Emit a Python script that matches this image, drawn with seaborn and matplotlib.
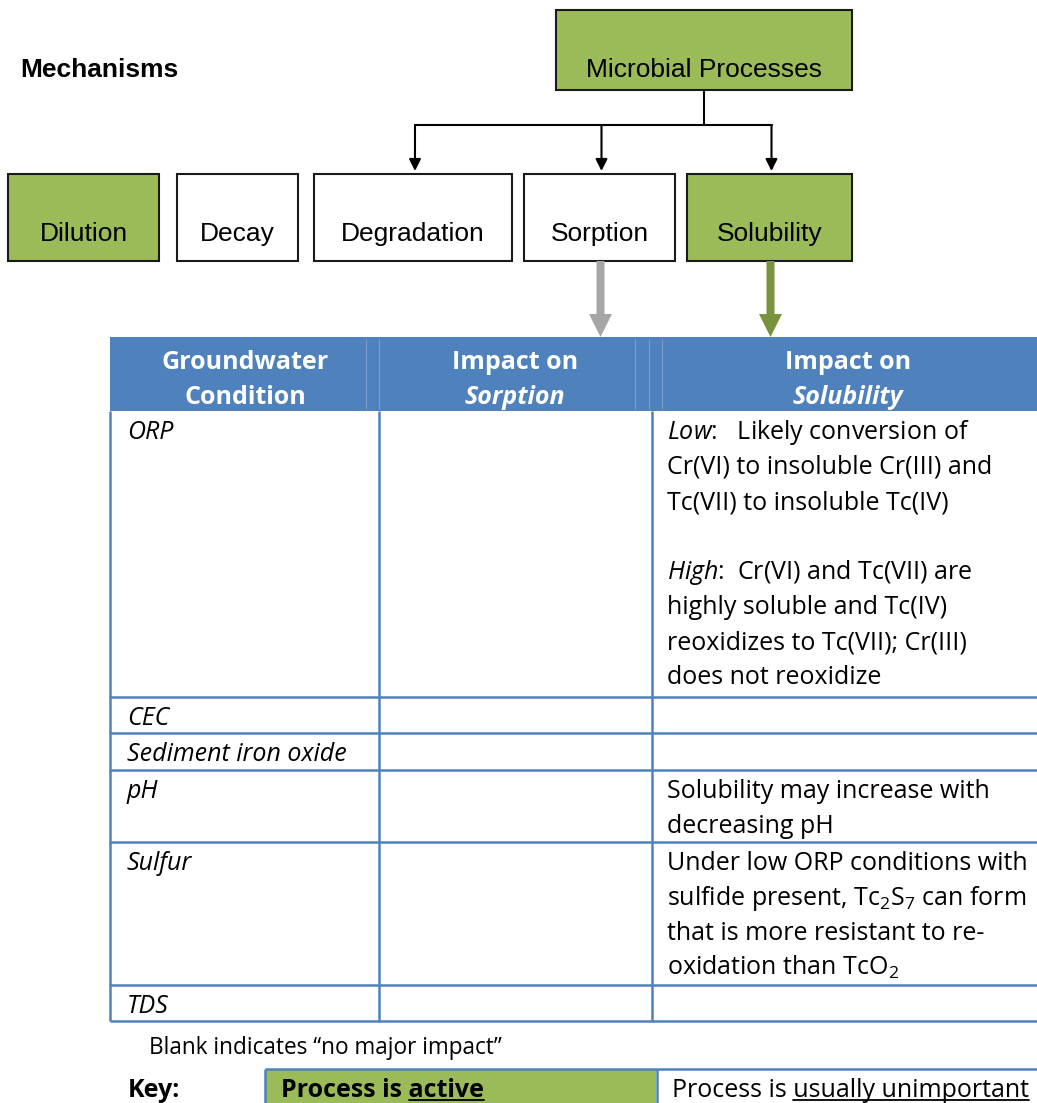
import matplotlib
matplotlib.use('Agg')
import matplotlib.pyplot as plt
import seaborn as sns
from matplotlib.patches import Rectangle, FancyArrow

# --- content ---
mechanisms = ['Dilution', 'Decay', 'Degradation', 'Sorption', 'Solubility']
mech_active = [True, False, False, False, True]
top_process = 'Microbial Processes'
microbial_targets = ['Degradation', 'Sorption', 'Solubility']

header_cols = [['Groundwater', 'Condition'], ['Impact on', 'Sorption'], ['Impact on', 'Solubility']]
conditions = ['ORP', 'CEC', 'Sediment iron oxide', 'pH', 'Sulfur', 'TDS']
sorption_impact = [[], [], [], [], [], []]
solubility_impact = [
    [r'$\mathit{Low}$:   Likely conversion of', 'Cr(VI) to insoluble Cr(III) and', 'Tc(VII) to insoluble Tc(IV)', '',
     r'$\mathit{High}$:  Cr(VI) and Tc(VII) are', 'highly soluble and Tc(IV)', 'reoxidizes to Tc(VII); Cr(III)',
     'does not reoxidize'],
    [],
    [],
    ['Solubility may increase with', 'decreasing pH'],
    ['Under low ORP conditions with', r'sulfide present, Tc$_2$S$_7$ can form', 'that is more resistant to re-',
     r'oxidation than TcO$_2$'],
    [],
]
footnote = 'Blank indicates \u201cno major impact\u201d'
key_active = ('Process is ', 'active')
key_unimp = ('Process is ', 'usually unimportant')

# --- style ---
sns.set_theme(style='white')
plt.rcParams['font.family'] = ['Open Sans', 'DejaVu Sans']
plt.rcParams['text.color'] = 'black'
plt.rcParams['mathtext.fontset'] = 'custom'
plt.rcParams['mathtext.rm'] = 'Open Sans'
plt.rcParams['mathtext.it'] = 'Open Sans:italic'
GREEN = '#9bbb59'
DKGREEN = '#77933c'
GRAY = '#a6a6a6'
BLUE = '#4f81bd'
ARIAL = 'Liberation Sans'
FS = 18

W, H = 1037, 1103
fig = plt.figure(figsize=(W / 100, H / 100), dpi=100)
ax = fig.add_axes([0, 0, 1, 1])
ax.set_xlim(0, W)
ax.set_ylim(H, 0)
ax.axis('off')

# --- mechanisms diagram ---
ax.text(20, 77, 'Mechanisms', family=ARIAL, weight='bold', fontsize=19, va='baseline')
ax.add_patch(Rectangle((556, 10), 296, 80, facecolor=GREEN, edgecolor='#1a1a1a', lw=1.5))
ax.text(704, 77, top_process, family=ARIAL, fontsize=19, ha='center', va='baseline')

box_l = [8, 177, 314, 524, 687]
box_r = [159, 298, 512, 675, 852]
box_top, box_bot = 174, 261
centers = {}
for name, act, l, r in zip(mechanisms, mech_active, box_l, box_r):
    ax.add_patch(Rectangle((l, box_top), r - l, box_bot - box_top,
                           facecolor=GREEN if act else 'white', edgecolor='#1a1a1a', lw=1.5))
    ax.text((l + r) / 2, 241, name, family=ARIAL, fontsize=19, ha='center', va='baseline')
    centers[name] = (l + r) / 2

ax.plot([704, 704], [91, 125], color='black', lw=1.5, solid_capstyle='butt')
tx = [centers[t] + 2 for t in microbial_targets]
ax.plot([min(tx), max(tx)], [125, 125], color='black', lw=1.5)
for x in tx:
    ax.annotate('', xy=(x, 171), xytext=(x, 125),
                arrowprops=dict(arrowstyle='-|>,head_length=0.7,head_width=0.35', color='black',
                                lw=1.5, shrinkA=0, shrinkB=0, mutation_scale=10))

for name, col in [('Sorption', GRAY), ('Solubility', DKGREEN)]:
    ax.add_patch(FancyArrow(centers[name] + 1, box_bot, 0, 76, width=8, head_width=23, head_length=23,
                            length_includes_head=True, color=col, lw=0))

# --- table ---
tab_l = 110
col_x = [110, 379, 652]
row_edges = [411, 697, 733, 770, 842, 985, 1021]
ax.add_patch(Rectangle((tab_l, 337), W - tab_l + 20, 74, facecolor=BLUE, edgecolor='none'))
for x in [366, 379, 635, 649, 662]:
    ax.plot([x, x], [339, 409], color='#7d9ccc', lw=0.8)
ax.hlines(row_edges[1:], tab_l, W + 10, color=BLUE, lw=1.8)
ax.vlines(col_x, row_edges[0], row_edges[-1], color=BLUE, lw=1.8)

hx = [245, 515, 848]
for cx, (l1, l2) in zip(hx, header_cols):
    ax.text(cx, 369, l1, color='white', weight='bold', fontsize=FS, ha='center', va='baseline')
    ax.text(cx, 404, l2, color='white', weight='bold', fontsize=FS, ha='center', va='baseline',
            style='normal' if l2 == 'Condition' else 'italic')

for i, cond in enumerate(conditions):
    base = row_edges[i] + 28
    ax.text(127, base, cond, style='italic', fontsize=FS, va='baseline')
    for j, line in enumerate(sorption_impact[i]):
        ax.text(396, base + 35 * j, line, fontsize=FS, va='baseline')
    for j, line in enumerate(solubility_impact[i]):
        if line:
            ax.text(667, base + 35 * j, line, fontsize=FS, va='baseline')

# --- footnote & key ---
ax.text(149, 1054, footnote, fontsize=16.3, va='baseline')
ax.text(128, 1097, 'Key:', weight='bold', fontsize=FS, va='baseline')
ax.add_patch(Rectangle((266, 1070), 390, 50, facecolor=GREEN, edgecolor='none'))
ax.hlines(1069, 265, W + 10, color=BLUE, lw=1.8)
ax.vlines([265, 657], 1069, H + 10, color=BLUE, lw=1.8)

renderer = fig.canvas.get_renderer()
inv = ax.transData.inverted()


def underlined(x, y, parts, **kw):
    t = ax.text(x, y, ''.join(parts), va='baseline', **kw)
    bb = t.get_window_extent(renderer)
    tmp = ax.text(0, 0, parts[1], va='baseline', **kw)
    w = tmp.get_window_extent(renderer).width
    tmp.remove()
    x0 = inv.transform((bb.x1 - w, 0))[0]
    x1 = inv.transform((bb.x1, 0))[0]
    ax.plot([x0, x1], [y + 3, y + 3], color='black', lw=1.3)


underlined(281, 1097, key_active, weight='bold', fontsize=FS)
underlined(672, 1097, key_unimp, fontsize=FS)

fig.savefig('out.png', dpi=100, facecolor='white')
